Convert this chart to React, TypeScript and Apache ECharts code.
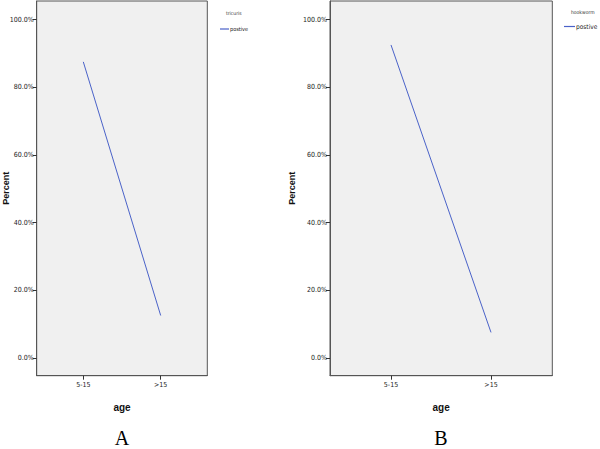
import React, { useEffect, useRef } from "react";
import * as echarts from "echarts";

const categories = ["5-15", ">15"];
const tricurisPositive = [87.5, 12.5];
const hookwormPositive = [92.5, 7.5];
const yTicks = [0, 20, 40, 60, 80, 100];
const panelTitles = ["tricuris", "hookworm"];
const panelLetters = ["A", "B"];
const seriesName = "postive";

const LINE = "#4a62c8";
const NARROW = "'DejaVu Sans Condensed', 'Liberation Sans Narrow', 'Liberation Sans', Arial, sans-serif";

export default function App() {
  const ref = useRef<HTMLDivElement>(null);
  useEffect(() => {
    if (!ref.current) return;
    const chart = echarts.init(ref.current, null, { renderer: "svg" });
    const catIdx = categories.map((_, i) => i);
    const mkY = (gridIndex: number, nameGap: number) => ({
      type: "value",
      gridIndex,
      min: -5.3,
      max: 105.5,
      name: "Percent",
      nameLocation: "middle",
      nameRotate: 90,
      nameGap,
      nameMoveOverlap: false,
      nameTextStyle: { fontFamily: "'Liberation Sans', Arial, sans-serif", fontWeight: "bold", fontSize: 9, color: "#111" },
      axisLine: { show: true, onZero: false, lineStyle: { color: "#555" } },
      axisTick: { show: true, customValues: yTicks, length: 4, lineStyle: { color: "#333" } },
      axisLabel: {
        customValues: yTicks,
        formatter: (v: number) => v.toFixed(1) + "%",
        fontFamily: NARROW,
        fontSize: 7,
        color: "#222",
        margin: 3,
      },
      splitLine: { show: false },
    });
    const mkX = (gridIndex: number, min: number, max: number) => ({
      type: "value",
      gridIndex,
      min,
      max,
      name: "age",
      nameLocation: "middle",
      nameGap: 27,
      nameMoveOverlap: false,
      nameTextStyle: { fontFamily: "'Liberation Sans', Arial, sans-serif", fontWeight: "bold", fontSize: 10, color: "#111" },
      axisLine: { show: true, onZero: false, lineStyle: { color: "#555" } },
      axisTick: { show: true, customValues: catIdx, length: 4, lineStyle: { color: "#333" } },
      axisLabel: {
        customValues: catIdx,
        formatter: (v: number) => categories[Math.round(v)] ?? "",
        fontFamily: NARROW,
        fontSize: 7,
        color: "#222",
        margin: 6,
      },
      splitLine: { show: false },
    });
    const gridCommon = {
      show: true,
      backgroundColor: "#f0f0f0",
      borderColor: "#555",
      borderWidth: 1,
      top: 1,
      height: 374.7,
      containLabel: false,
      outerBoundsMode: "none",
    };
    chart.setOption({
      animation: false,
      backgroundColor: "#ffffff",
      grid: [
        { ...gridCommon, left: 36.7, width: 170.6 },
        { ...gridCommon, left: 330, width: 222.3 },
      ],
      xAxis: [mkX(0, -0.602, 1.602), mkX(1, -0.61, 1.613)],
      yAxis: [mkY(0, 26), mkY(1, 34)],
      legend: [
        {
          left: 220,
          top: 26,
          padding: 0,
          icon: "rect",
          itemWidth: 9,
          itemHeight: 1.2,
          itemGap: 2,
          data: [seriesName],
          textStyle: { fontFamily: NARROW, fontSize: 5.5, color: "#222", padding: [0, 0, 0, -4] },
        },
        {
          left: 564,
          top: 23,
          padding: 0,
          icon: "rect",
          itemWidth: 11,
          itemHeight: 1.2,
          itemGap: 2,
          data: [seriesName],
          textStyle: { fontFamily: NARROW, fontSize: 6.5, color: "#222", padding: [0, 0, 0, -4] },
        },
      ],
      series: [
        {
          name: seriesName,
          type: "line",
          xAxisIndex: 0,
          yAxisIndex: 0,
          symbol: "none",
          lineStyle: { color: LINE, width: 1 },
          itemStyle: { color: LINE },
          data: tricurisPositive.map((v, i) => [i, v]),
        },
        {
          name: seriesName,
          type: "line",
          xAxisIndex: 1,
          yAxisIndex: 1,
          symbol: "none",
          lineStyle: { color: LINE, width: 1 },
          itemStyle: { color: LINE },
          data: hookwormPositive.map((v, i) => [i, v]),
        },
      ],
      graphic: [
        {
          type: "text",
          left: 226,
          top: 10,
          style: { text: panelTitles[0], fontFamily: NARROW, fontSize: 5, fill: "#333" },
        },
        {
          type: "text",
          left: 571,
          top: 9,
          style: { text: panelTitles[1], fontFamily: NARROW, fontSize: 5, fill: "#333" },
        },
        {
          type: "text",
          x: 122,
          y: 438,
          style: { text: panelLetters[0], fontFamily: "'Liberation Serif', 'Times New Roman', serif", fontSize: 20, fill: "#000", align: "center", verticalAlign: "middle" },
        },
        {
          type: "text",
          x: 441,
          y: 438,
          style: { text: panelLetters[1], fontFamily: "'Liberation Serif', 'Times New Roman', serif", fontSize: 20, fill: "#000", align: "center", verticalAlign: "middle" },
        },
      ],
    });
    return () => chart.dispose();
  }, []);
  return <div ref={ref} style={{ width: 600, height: 449, position: "absolute", left: 0, top: 0 }} />;
}
